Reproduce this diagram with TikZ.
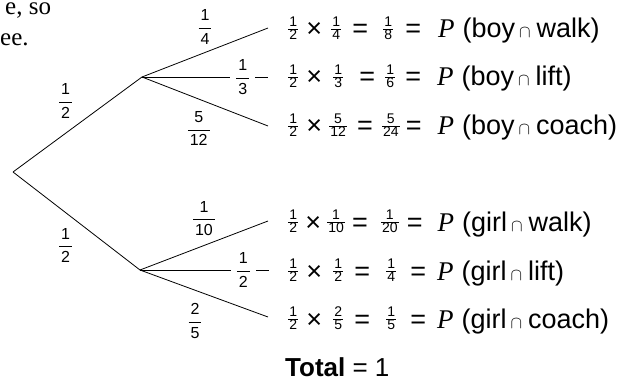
\documentclass[tikz,border=0pt]{standalone}
\usepackage{amsmath}
\usepackage{fontspec}
\setmainfont{Liberation Sans}
\newfontfamily\serifrm{Liberation Serif}
\usetikzlibrary{positioning}

% small fraction in the rows, larger one on the branches
\newcommand\fr[2]{\raisebox{5.5pt}{\fontsize{14}{14}\selectfont$\genfrac{}{}{0.6pt}{1}{\hbox{\kern1pt#1\kern1pt}}{\hbox{\kern1pt#2\kern1pt}}$}}
\newcommand\lfr[2]{{\fontsize{16}{16}\selectfont$\genfrac{}{}{0.6pt}{0}{\hbox{\kern2pt#1\kern2pt}}{\hbox{\kern2pt#2\kern2pt}}$}}
\newcommand\cp{\hspace{4pt}{\fontsize{17}{17}\selectfont$\cap$}\hspace{6pt}}
\newcommand\ev[2]{{\serifrm\itshape P}\hspace{8pt}(#1\cp #2)}

\begin{document}
\begin{tikzpicture}[x=1pt,y=-1pt,
  branch/.style={draw,line width=0.8pt},
  prob/.style={inner sep=1pt},
  midprob/.style={fill=white,inner xsep=5pt,inner ysep=0pt},
  rowtxt/.style={anchor=base west,inner sep=0pt,font=\fontsize{27}{32}\selectfont},
  pagetxt/.style={anchor=base west,inner sep=0pt,font=\serifrm\fontsize{25}{30}\selectfont}
]
\useasboundingbox (0,0) rectangle (619,377);
% text of the page above
\node[pagetxt] (t1) at (5,15) {e, so};
\node[pagetxt] (t2) at (0,46) {ee.};
% tree points
\coordinate (root) at (13,172);
\coordinate (boy) at (142,77);
\coordinate (girl) at (140,270);
\coordinate (bw) at (268,28);
\coordinate (bl) at (268,77);
\coordinate (bc) at (268,126);
\coordinate (gw) at (268,221);
\coordinate (gl) at (269,270);
\coordinate (gc) at (268,317);
% branches
\draw[branch] (root) -- node[prob,above left=5pt and 3pt] {\lfr{1}{2}} (boy);
\draw[branch] (root) -- node[prob,below left=6pt and 2pt] {\lfr{1}{2}} (girl);
\draw[branch] (boy) -- node[prob,above=7pt] {\lfr{1}{4}} (bw);
\draw[branch] (boy) -- node[midprob,pos=0.8] {\lfr{1}{3}} (bl);
\draw[branch] (boy) -- node[prob,pos=0.45,below=11pt] {\lfr{5}{12}} (bc);
\draw[branch] (girl) -- node[prob,above=8pt] {\lfr{1}{10}} (gw);
\draw[branch] (girl) -- node[midprob,pos=0.8] {\lfr{1}{2}} (gl);
\draw[branch] (girl) -- node[prob,pos=0.43,below=12pt] {\lfr{2}{5}} (gc);
% outcomes
\node[rowtxt] (r1) at ([xshift=19pt,yshift=-10pt]bw)
  {\fr{1}{2}\hspace{7pt}×\hspace{8pt}\fr{1}{4}\hspace{10pt}=\hspace{14pt}\fr{1}{8}\hspace{11pt}=\hspace{17pt}\ev{boy}{walk}};
\node[rowtxt] (r2) at ([xshift=19pt,yshift=-9pt]bl)
  {\fr{1}{2}\hspace{7pt}×\hspace{10pt}\fr{1}{3}\hspace{15pt}=\hspace{9pt}\fr{1}{6}\hspace{9pt}=\hspace{16pt}\ev{boy}{lift}};
\node[rowtxt] (r3) at ([xshift=19pt,yshift=-9pt]bc)
  {\fr{1}{2}\hspace{7pt}×\hspace{6pt}\fr{5}{12}\hspace{9pt}=\hspace{8pt}\fr{5}{24}\hspace{5pt}=\hspace{16pt}\ev{boy}{coach}};
\node[rowtxt] (r4) at ([xshift=19pt,yshift=-10pt]gw)
  {\fr{1}{2}\hspace{6pt}×\hspace{5pt}\fr{1}{10}\hspace{6pt}=\hspace{12pt}\fr{1}{20}\hspace{7pt}=\hspace{15pt}\ev{girl}{walk}};
\node[rowtxt] (r5) at ([xshift=18pt,yshift=-10pt]gl)
  {\fr{1}{2}\hspace{7pt}×\hspace{10pt}\fr{1}{2}\hspace{10pt}=\hspace{15pt}\fr{1}{4}\hspace{13pt}=\hspace{11pt}\ev{girl}{lift}};
\node[rowtxt] (r6) at ([xshift=19pt,yshift=-11pt]gc)
  {\fr{1}{2}\hspace{7pt}×\hspace{10pt}\fr{2}{5}\hspace{10pt}=\hspace{15pt}\fr{1}{5}\hspace{13pt}=\hspace{11pt}\ev{girl}{coach}};
\node[rowtxt,font=\fontsize{26}{31}\selectfont,below=48pt of r6.base west,anchor=base west,xshift=-2pt] (tot) {\textbf{Total} = 1};
\end{tikzpicture}
\end{document}
